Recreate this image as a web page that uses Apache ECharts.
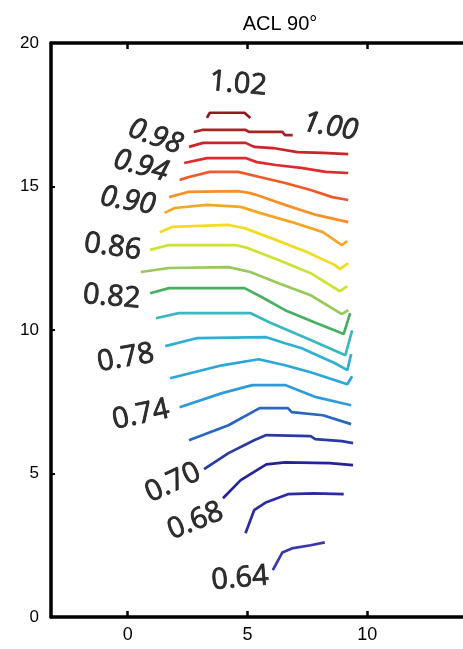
<!DOCTYPE html>
<html>
<head>
<meta charset="utf-8">
<script src="https://cdn.jsdelivr.net/npm/echarts@6/dist/echarts.min.js"></script>
<style>
html,body{margin:0;padding:0;background:#fff;}
#chart{width:463px;height:649px;}
</style>
</head>
<body>
<div id="chart"></div>
<script>
// ---- data ----
const titleText = 'ACL 90°';
const xTickValues = [0, 5, 10];
const yTickValues = [0, 5, 10, 15, 20];

const levels = ['1.02','1.00','0.98','0.96','0.94','0.92','0.90','0.88','0.86','0.84','0.82','0.80','0.78','0.76','0.74','0.72','0.70','0.68','0.66','0.64'];
const levelColors = ['#8e1b1b','#a82424','#c9262b','#e02a2e','#f05a2a','#f5902a','#f4a628','#f1dc22','#cfe234','#98c95a','#4aae62','#3bb7c0','#2fb0d2','#2aa6d8','#2f9ad8','#2a66bc','#2a3aa4','#23239a','#2b2ba2','#3838aa'];

const c102 = [[3.31,17.39],[3.43,17.57],[4.88,17.57],[5.12,17.39]];
const c100 = [[2.76,16.90],[3.11,16.97],[4.92,16.97],[5.08,16.90],[6.46,16.90],[6.57,16.79],[6.89,16.79]];
const c098 = [[2.56,16.38],[3.15,16.52],[4.92,16.52],[5.28,16.38],[6.06,16.34],[7.09,16.20],[8.15,16.17],[9.21,16.13]];
const c096 = [[2.36,15.82],[3.31,15.99],[4.92,15.99],[5.39,15.85],[6.18,15.75],[7.24,15.65],[8.27,15.51],[9.21,15.47]];
const c094 = [[2.17,15.23],[2.56,15.33],[3.43,15.51],[4.61,15.51],[5.51,15.33],[6.57,15.12],[7.64,14.88],[8.54,14.63],[9.21,14.53]];
const c092 = [[1.73,14.63],[2.52,14.81],[4.61,14.84],[5.12,14.77],[5.51,14.67],[6.57,14.36],[7.87,14.01],[9.21,13.76]];
const c090 = [[1.54,14.08],[1.97,14.25],[3.31,14.36],[4.72,14.29],[5.51,14.08],[6.85,13.76],[8.15,13.41],[8.94,12.96],[9.17,13.10]];
const c088 = [[1.34,13.41],[1.85,13.59],[4.21,13.66],[4.88,13.55],[6.18,13.14],[7.48,12.72],[8.66,12.26],[8.86,12.12],[9.21,12.33]];
const c086 = [[0.94,12.79],[1.73,12.96],[4.49,12.96],[5.00,12.86],[6.30,12.44],[7.64,11.98],[8.86,11.35],[9.17,11.53]];
const c084 = [[0.55,12.02],[1.73,12.16],[4.21,12.19],[5.12,12.02],[6.30,11.63],[7.64,11.21],[8.94,10.55],[9.21,10.69]];
const c082 = [[0.94,11.28],[1.73,11.46],[4.88,11.46],[5.59,11.15],[6.57,10.69],[7.87,10.24],[9.02,9.86],[9.29,10.59]];
const c080 = [[1.18,10.41],[2.13,10.59],[5.12,10.59],[5.91,10.27],[7.64,9.65],[9.09,9.12],[9.37,9.99]];
const c078 = [[1.57,9.44],[2.91,9.72],[5.79,9.75],[6.57,9.54],[7.24,9.37],[8.66,8.84],[9.17,8.60],[9.33,9.16]];
const c076 = [[1.77,8.32],[3.94,8.77],[5.47,8.98],[6.57,8.77],[7.64,8.53],[9.17,8.11],[9.37,8.39]];
const c074 = [[2.17,7.31],[3.94,7.80],[5.20,8.08],[6.57,8.08],[7.87,7.66],[9.33,7.38]];
const c072 = [[2.56,6.16],[4.21,6.68],[5.51,7.28],[6.69,7.28],[6.85,7.14],[8.15,7.03],[9.33,6.72]];
const c070 = [[3.19,5.15],[4.21,5.71],[5.28,6.16],[5.79,6.34],[7.64,6.30],[7.83,6.20],[8.94,6.13],[9.41,6.06]];
const c068 = [[3.98,4.14],[4.72,4.77],[5.79,5.32],[6.57,5.39],[8.43,5.36],[9.41,5.29]];
const c066 = [[4.92,2.92],[5.28,3.72],[5.79,4.00],[6.69,4.28],[7.76,4.31],[9.02,4.28]];
const c064 = [[6.06,1.63],[6.46,2.25],[6.85,2.39],[7.64,2.50],[8.23,2.60]];

const contourLines = [c102,c100,c098,c096,c094,c092,c090,c088,c086,c084,c082,c080,c078,c076,c074,c072,c070,c068,c066,c064];

// contour labels (text, anchor in data units, angle)
const labelTexts = ['1.02','1.00','0.98','0.94','0.90','0.86','0.82','0.78','0.74','0.70','0.68','0.64'];
const labelX = [4.61, 8.46, 1.15, 0.55, 0.0, -0.63, -0.67, -0.08, 0.55, 1.89, 2.83, 4.69];
const labelY = [18.57, 17.08, 16.73, 15.71, 14.49, 12.89, 11.15, 9.02, 7.04, 4.67, 3.34, 1.34];
const labelAngle = [-5, -10, -20, -15, -10, -8, -5, 10, 12, 25, 22, 5];
const labelItalic = [false, true, true, true, true, false, false, false, false, false, false, false];

// ---- chart ----
const chart = echarts.init(document.getElementById('chart'), null, {renderer:'canvas'});

const series = contourLines.map((pts, i) => ({
  name: levels[i],
  type: 'line',
  data: pts,
  showSymbol: false,
  symbol: 'none',
  smooth: false,
  lineStyle: {color: levelColors[i], width: 2.7},
  z: 3,
  silent: true
}));

series.push({
  type: 'scatter',
  symbolSize: 0,
  silent: true,
  z: 5,
  data: labelTexts.map((t, i) => ({
    value: [labelX[i], labelY[i]],
    name: t,
    label: {
      show: true,
      position: 'inside',
      formatter: t,
      rotate: labelAngle[i],
      fontStyle: labelItalic[i] ? 'italic' : 'normal',
      fontFamily: 'Open Sans',
      fontSize: 29,
      color: '#000',
      textBorderColor: '#000',
      textBorderWidth: 0.8
    }
  }))
});

const axisLineStyle = {onZero: false, lineStyle: {color: '#000', width: 3.5}};

chart.setOption({
  animation: false,
  backgroundColor: '#fff',
  title: {
    text: titleText,
    left: 275,
    textAlign: 'center',
    top: 9,
    textStyle: {fontFamily: 'Liberation Sans, sans-serif', fontSize: 20, fontWeight: 'normal', color: '#000'}
  },
  grid: {left: 51, top: 43, height: 574, width: 437},
  xAxis: [{
    type: 'value',
    min: -3.2, max: 14,
    position: 'bottom',
    axisLine: axisLineStyle,
    splitLine: {show: false},
    axisTick: {show: true, inside: true, length: 6, customValues: xTickValues, lineStyle: {color: '#000', width: 2.5}},
    axisLabel: {customValues: xTickValues, color: '#000', fontSize: 18, fontFamily: 'Liberation Sans, sans-serif', margin: 9}
  }, {
    type: 'value',
    min: -3.2, max: 14,
    position: 'top',
    axisLine: axisLineStyle,
    splitLine: {show: false},
    axisTick: {show: true, inside: true, length: 6, customValues: xTickValues, lineStyle: {color: '#000', width: 2.5}},
    axisLabel: {show: false}
  }],
  yAxis: [{
    type: 'value',
    min: 0, max: 20, interval: 5,
    position: 'left',
    axisLine: axisLineStyle,
    splitLine: {show: false},
    axisTick: {show: true, inside: true, length: 4, lineStyle: {color: '#000', width: 2}},
    axisLabel: {color: '#000', fontSize: 17, fontFamily: 'Liberation Sans, sans-serif', margin: 12}
  }],
  series: series
});
</script>
</body>
</html>
